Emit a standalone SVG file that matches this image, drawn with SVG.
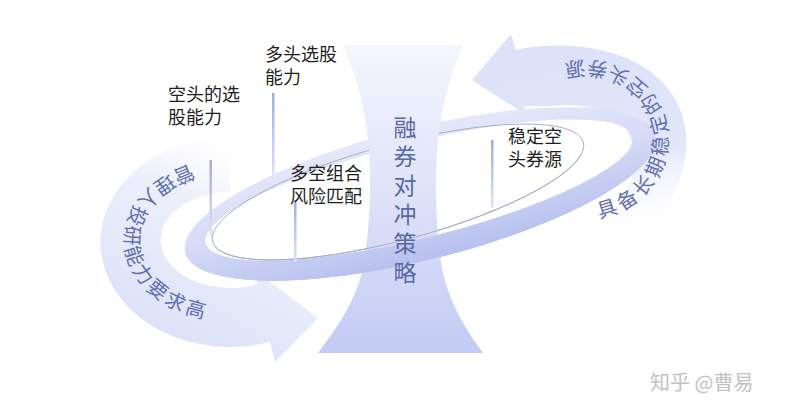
<svg xmlns="http://www.w3.org/2000/svg" xmlns:xlink="http://www.w3.org/1999/xlink" width="794" height="416" viewBox="0 0 794 416">
<style>
.lbl{font-family:"Noto Sans CJK SC","Noto Sans",sans-serif;font-size:18px;fill:#1e1e1e}
.arc{font-family:"Noto Sans CJK SC","Noto Sans",sans-serif;font-size:20px;fill:#6170ae}
.core{font-family:"Noto Sans CJK SC","Noto Sans",sans-serif;font-size:23px;fill:#5868a3}
.wm{font-family:"Noto Sans CJK SC","Noto Sans",sans-serif;font-size:20px;fill:#c2c2c2}
.lead{fill:url(#leadGrad)}
</style>
<defs>
<linearGradient id="leftGrad" gradientUnits="userSpaceOnUse" x1="265" y1="150" x2="170" y2="335">
<stop offset="0" stop-color="#ffffff" stop-opacity="0"/>
<stop offset="0.35" stop-color="#e9ecfa" stop-opacity="0.8"/>
<stop offset="1" stop-color="#dde2f8"/>
</linearGradient>
<linearGradient id="rightGrad" gradientUnits="userSpaceOnUse" x1="600" y1="40" x2="640" y2="235">
<stop offset="0" stop-color="#dde2f8"/>
<stop offset="0.6" stop-color="#e2e6f9"/>
<stop offset="1" stop-color="#ffffff" stop-opacity="0"/>
</linearGradient>
<linearGradient id="funnelGrad" gradientUnits="userSpaceOnUse" x1="0" y1="45" x2="0" y2="353">
<stop offset="0" stop-color="#f5f6fd"/>
<stop offset="0.5" stop-color="#dde2f8"/>
<stop offset="1" stop-color="#c3cbf5"/>
</linearGradient>
<linearGradient id="ringGrad" gradientUnits="userSpaceOnUse" x1="0" y1="-68" x2="0" y2="68">
<stop offset="0" stop-color="#e6e9fa"/>
<stop offset="0.5" stop-color="#d5daf7"/>
<stop offset="1" stop-color="#b6bfee"/>
</linearGradient>
<linearGradient id="leadGrad" x1="0" y1="0" x2="0" y2="1">
<stop offset="0" stop-color="#a2abdc"/>
<stop offset="1" stop-color="#dfe3f6"/>
</linearGradient>
<clipPath id="frontClip" clipPathUnits="userSpaceOnUse">
<polygon points="0,298.6 794,100.9 794,416 0,416"/>
</clipPath>
<path id="ringBand" fill-rule="evenodd" fill="url(#ringGrad)" transform="translate(420,194) rotate(-14)" d="M-242,0 A242,66 0 1,0 242,0 A242,66 0 1,0 -242,0 Z M-220,-4 A220,48 0 1,0 220,-4 A220,48 0 1,0 -220,-4 Z"/>
<ellipse id="ringLine" cx="398" cy="192" rx="192" ry="48" transform="rotate(-15 398 192)" fill="none" stroke="#a9adc4" stroke-width="0.9"/>
<path id="leftTextPath" d="M190.6,164.9 A105,81 0 1,0 282.5,310.1"/>
<path id="rightTextPath" d="M599.4,217.8 A83,79 0 1,0 549.9,68.4"/>
</defs>
<rect width="794" height="416" fill="#ffffff"/>

<g id="left-arrow">
<path fill="url(#leftGrad)" d="M232,137 A130,105 0 1,0 270,342 L275,362 L318,318 L262,276 L255,285 A70,48 0 1,1 230,192 Z"/>
</g>

<g id="right-arrow">
<path fill="url(#rightGrad)" d="M472,80 L511,34 L516,50 C560,40 630,45 665,85 C700,125 690,185 650,228 L607,222 C632,195 642,160 628,132 C615,108 585,103 548,106 L524,106 L526,115 Z"/>
</g>

<g id="ring-back">
<use xlink:href="#ringBand" href="#ringBand"/>
<use xlink:href="#ringLine" href="#ringLine"/>
</g>

<g id="funnel">
<path fill="url(#funnelGrad)" d="M343,45 L463,45 C451,75 441,105 438,140 C434,180 436,225 441,262 C447,300 466,330 483,353 L318,353 C335,330 358,300 364,262 C370,225 372,180 368,140 C365,105 355,75 343,45 Z"/>
</g>

<g id="ring-front" clip-path="url(#frontClip)">
<use xlink:href="#ringBand" href="#ringBand"/>
<use xlink:href="#ringLine" href="#ringLine"/>
</g>

<g id="core-label">
<text class="core" x="405" y="116" writing-mode="vertical-rl" letter-spacing="6">融券对冲策略</text>
</g>

<g id="connectors">
<rect class="lead" x="209.5" y="160" width="2.5" height="76"/>
<rect class="lead" x="272" y="93" width="2.5" height="82"/>
<rect class="lead" x="294" y="200" width="2.5" height="62"/>
<rect class="lead" x="491" y="140" width="2.5" height="68"/>
</g>

<g id="node-long">
<text class="lbl"><tspan x="265" y="61">多头选股</tspan><tspan x="265" y="84">能力</tspan></text>
</g>
<g id="node-short">
<text class="lbl"><tspan x="168" y="101">空头的选</tspan><tspan x="168" y="124">股能力</tspan></text>
</g>
<g id="node-risk">
<text class="lbl"><tspan x="290" y="180">多空组合</tspan><tspan x="290" y="203">风险匹配</tspan></text>
</g>
<g id="node-source">
<text class="lbl"><tspan x="508" y="143">稳定空</tspan><tspan x="508" y="166">头券源</tspan></text>
</g>

<g id="arc-labels">
<text class="arc" letter-spacing="3"><textPath xlink:href="#leftTextPath" href="#leftTextPath">管理人投研能力要求高</textPath></text>
<text class="arc" letter-spacing="4"><textPath xlink:href="#rightTextPath" href="#rightTextPath">具备长期稳定的空头券源</textPath></text>
</g>

<text class="wm" x="650" y="390">知乎 @曹易</text>
</svg>
